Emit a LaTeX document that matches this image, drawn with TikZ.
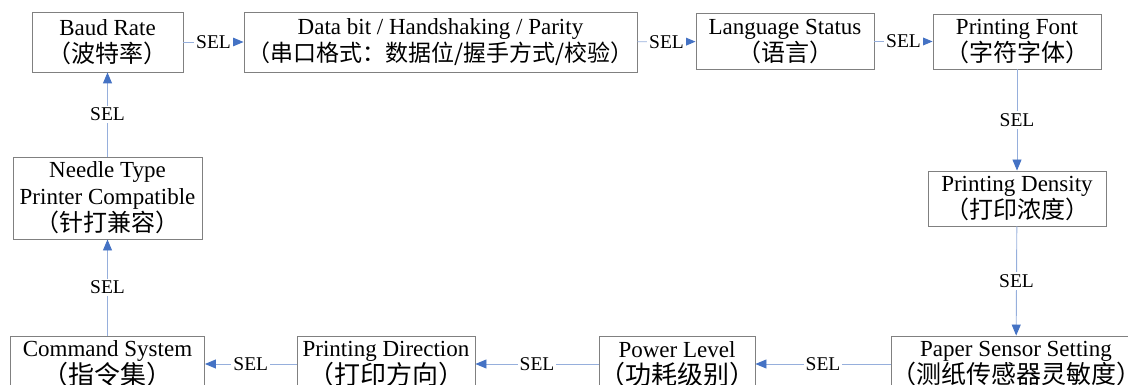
\documentclass[tikz,border=0pt]{standalone}
\usepackage{fontspec}
\setmainfont{Liberation Serif}
\newfontfamily\cjk{Noto Sans CJK SC}
\usetikzlibrary{arrows.meta}
\definecolor{boxgray}{RGB}{128,128,128}
\definecolor{linblue}{RGB}{150,175,220}
\definecolor{tipblue}{RGB}{68,114,196}
\newcommand\zh[2][24]{{\fontsize{#1}{27}\cjk #2}}
\begin{document}
\begin{tikzpicture}[x=1pt,y=-1pt,
 box/.style={draw=boxgray, line width=0.9pt, rectangle, align=center, inner sep=0pt, font=\fontsize{23}{27}\selectfont},
 conn/.style={draw=linblue, line width=0.9pt, -{Triangle[length=11pt,width=9pt,color=tipblue]}},
 sel/.style={fill=white, inner sep=2pt, font=\fontsize{19.5}{21}\selectfont}]
\useasboundingbox (0,0) rectangle (1128,385);
\node[box, minimum width=151pt, minimum height=60pt] (baud) at (107.5,42) {Baud Rate\\\zh{（波特率）}};
\node[box, minimum width=393pt, minimum height=60pt] (data) at (440.5,42) {Data bit / Handshaking / Parity\\\zh[23]{（串口格式：数据位/握手方式/校验）}};
\node[box, minimum width=178pt, minimum height=56pt] (lang) at (785,41.5) {Language Status\\\zh{（语言）}};
\node[box, minimum width=168pt, minimum height=55pt] (font) at (1017,41.5) {Printing Font\\\zh{（字符字体）}};
\node[box, minimum width=178pt, minimum height=55pt] (dens) at (1017,198.5) {Printing Density\\\zh{（打印浓度）}};
\node[box, minimum width=242pt, minimum height=56pt] (paper) at (1016,364) {Paper Sensor Setting\\\zh[25]{（测纸传感器灵敏度）}};
\node[box, minimum width=152pt, minimum height=56pt] (power) at (677,364) {Power Level\\\zh[26]{（功耗级别）}};
\node[box, minimum width=178pt, minimum height=56pt] (dir) at (386,364) {Printing Direction\\\zh[26]{（打印方向）}};
\node[box, minimum width=194pt, minimum height=56pt] (cmd) at (107.5,364) {Command System\\\zh[26]{（指令集）}};
\node[box, minimum width=189pt, minimum height=82pt] (needle) at (107.5,198) {Needle Type\\Printer Compatible\\\zh{（针打兼容）}};
\draw[conn] (baud) -- node[sel]{SEL} (data);
\draw[conn] (data) -- node[sel]{SEL} (lang);
\draw[conn] (lang) -- node[sel]{SEL} (font);
\draw[conn] (font) -- node[sel]{SEL} (dens);
\draw[conn] (dens) -- node[sel]{SEL} (paper);
\draw[conn] (paper) -- node[sel]{SEL} (power);
\draw[conn] (power) -- node[sel]{SEL} (dir);
\draw[conn] (dir) -- node[sel]{SEL} (cmd);
\draw[conn] (cmd) -- node[sel]{SEL} (needle);
\draw[conn] (needle) -- node[sel]{SEL} (baud);
\end{tikzpicture}
\end{document}
